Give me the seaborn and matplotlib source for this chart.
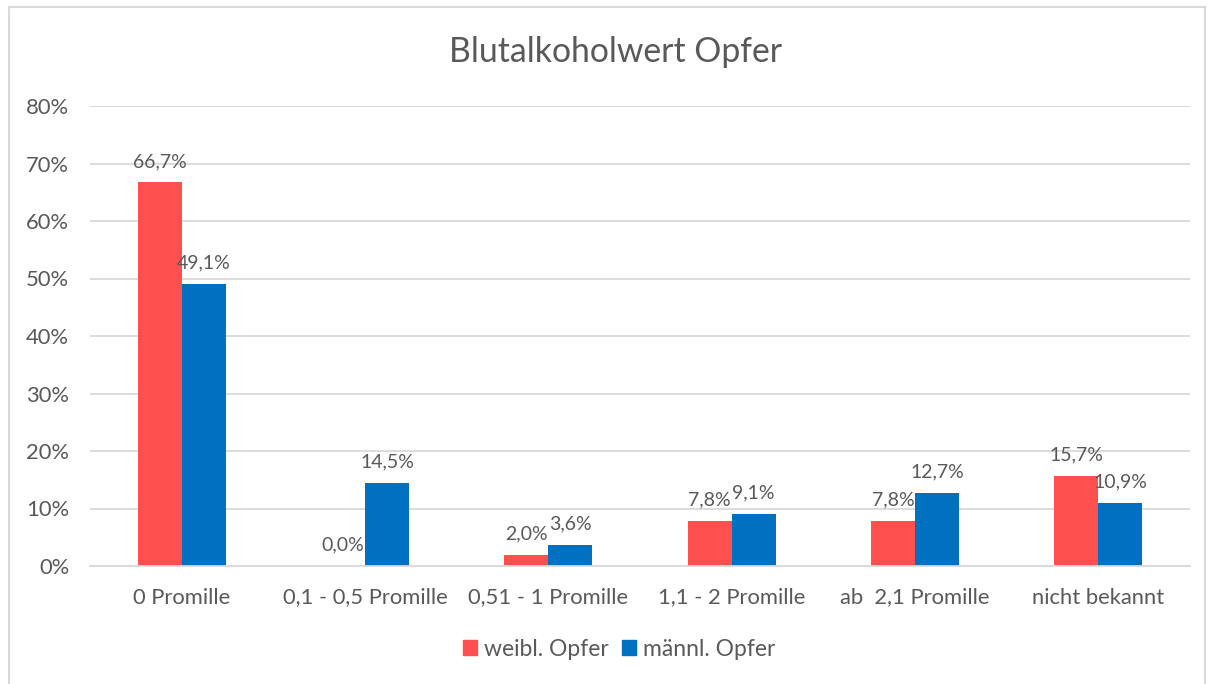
import matplotlib
matplotlib.use("Agg")
import matplotlib.pyplot as plt
import matplotlib.patches as mpatches
import pandas as pd
import seaborn as sns

# =========================
# Data
# =========================
categories = ["0 Promille", "0,1 - 0,5 Promille", "0,51 - 1 Promille",
              "1,1 - 2 Promille", "ab  2,1 Promille", "nicht bekannt"]
weibl = [66.7, 0.0, 2.0, 7.8, 7.8, 15.7]
maennl = [49.1, 14.5, 3.6, 9.1, 12.7, 10.9]
series = ["weibl. Opfer", "männl. Opfer"]
colors = ["#FF5050", "#0070C0"]
yticks = [0, 10, 20, 30, 40, 50, 60, 70, 80]

df = pd.DataFrame({
    "Kategorie": categories * 2,
    "Wert": weibl + maennl,
    "Serie": [series[0]] * len(categories) + [series[1]] * len(categories),
})

# =========================
# Plot
# =========================
sns.set_theme(style="white")
plt.rcParams["font.family"] = ["Lato", "DejaVu Sans"]
text_color = "#595959"
grid_color = "#D9D9D9"

fig = plt.figure(figsize=(12.14, 6.84), dpi=100)
ax = fig.add_axes([90 / 1214, 1 - 566 / 684, 1100 / 1214, 460 / 684])

sns.barplot(data=df, x="Kategorie", y="Wert", hue="Serie",
            palette=colors, width=0.48, gap=0, saturation=1, linewidth=0,
            order=categories, hue_order=series, ax=ax, legend=False)

for cont in ax.containers:
    vals = [b.get_height() for b in cont]
    labels = [f"{v:.1f}".replace(".", ",") + "%" for v in vals]
    ax.bar_label(cont, labels=labels, padding=9, fontsize=14, color=text_color)

ax.set_ylim(0, 80)
ax.set_xlim(-0.5, 5.5)
ax.set_yticks(yticks)
ax.set_yticklabels([f"{t}%" for t in yticks])
ax.yaxis.grid(True, color=grid_color, linewidth=1.3)
ax.set_axisbelow(True)
for side in ["top", "right", "left"]:
    ax.spines[side].set_visible(False)
ax.spines["bottom"].set_color(grid_color)
ax.spines["bottom"].set_linewidth(1.3)
ax.tick_params(axis="both", length=0, labelsize=15.8, labelcolor=text_color)
ax.tick_params(axis="y", pad=15)
ax.tick_params(axis="x", pad=15.5)
ax.set_xlabel("")
ax.set_ylabel("")

fig.text(0.5067, 1 - 52 / 684, "Blutalkoholwert Opfer", ha="center", va="center",
         fontsize=24.3, color=text_color)

handles = [mpatches.Patch(color=c, label=s) for c, s in zip(colors, series)]
fig.legend(handles=handles, loc="center", bbox_to_anchor=(0.51, 1 - 649 / 684),
           ncol=2, frameon=False, fontsize=16.5, labelcolor=text_color,
           handlelength=0.62, handleheight=0.62, handletextpad=0.3,
           columnspacing=0.6)

# outer chart border
fig.patches.append(mpatches.Rectangle((9 / 1214, -0.01), 1196 / 1214, 1 - 7 / 684 + 0.01,
                                      transform=fig.transFigure, fill=False,
                                      edgecolor=grid_color, linewidth=1.5))

plt.savefig("out.png", dpi=100)
